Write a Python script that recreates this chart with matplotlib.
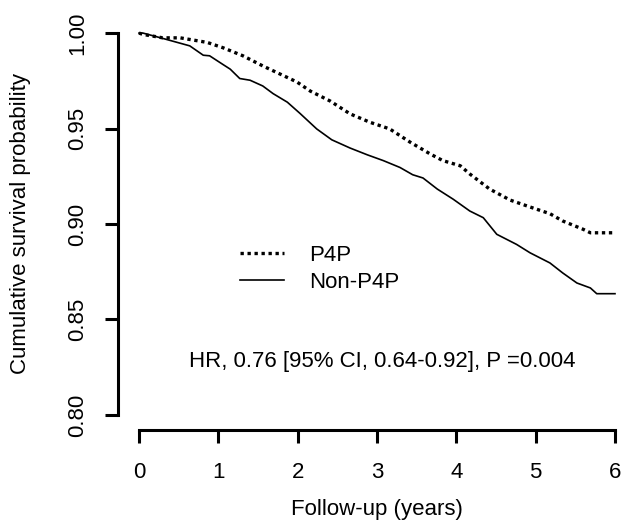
import matplotlib
matplotlib.use("Agg")
import matplotlib.pyplot as plt

plt.rcParams['font.family'] = ['Liberation Sans', 'DejaVu Sans']

# P4P 群 (点線)
p4p_t = [0.0, 0.05, 0.30, 0.52, 0.86, 1.06, 1.31, 1.56, 1.99, 2.16, 2.41, 2.66, 2.91,
         3.16, 3.42, 3.67, 3.83, 4.05, 4.17, 4.42, 4.68, 4.93, 5.18, 5.34, 5.60, 5.69, 5.98]
p4p_s = [1.0, 0.9993, 0.9975, 0.9975, 0.9951, 0.9923, 0.9881, 0.9828, 0.9744, 0.9696,
         0.9644, 0.9577, 0.9533, 0.9498, 0.9428, 0.9367, 0.9332, 0.9305, 0.9262, 0.9183,
         0.9125, 0.9089, 0.9054, 0.9016, 0.8972, 0.8954, 0.8954]

# Non-P4P 群 (実線)
non_t = [0.0, 0.05, 0.30, 0.64, 0.81, 0.89, 1.06, 1.15, 1.27, 1.40, 1.56, 1.69, 1.87,
         2.03, 2.24, 2.43, 2.66, 2.88, 3.08, 3.29, 3.45, 3.58, 3.76, 3.96, 4.17, 4.34,
         4.51, 4.76, 4.93, 5.18, 5.34, 5.52, 5.69, 5.77, 6.00]
non_s = [1.0, 1.0, 0.9972, 0.9933, 0.9884, 0.9881, 0.9835, 0.9811, 0.9762, 0.9753,
         0.9723, 0.9683, 0.9638, 0.9579, 0.9498, 0.9441, 0.9398, 0.9362, 0.9332, 0.9296,
         0.9258, 0.9241, 0.9183, 0.9130, 0.9068, 0.9033, 0.8946, 0.8893, 0.8849, 0.8796,
         0.8744, 0.8691, 0.8665, 0.8635, 0.8635]

x_ticks = [0, 1, 2, 3, 4, 5, 6]
y_ticks = [0.80, 0.85, 0.90, 0.95, 1.00]
y_labels = ["0.80", "0.85", "0.90", "0.95", "1.00"]

FS = 16
W, H = 621, 521
fig = plt.figure(figsize=(W / 100, H / 100), dpi=100)
# 軸の位置をピクセルで指定
left, right, top, bottom = 118, 621, 18, 430
ax = fig.add_axes([left / W, 1 - bottom / H, (right - left) / W, (bottom - top) / H])

ax.plot(p4p_t, p4p_s, color="black", lw=2.4, linestyle=(0, (1, 1.1)), label="P4P")
ax.plot(non_t, non_s, color="black", lw=1.2, label="Non-P4P")

px_per_year = 79.33
x0 = (left - 139) / px_per_year
x1 = (right - 139) / px_per_year
ax.set_xlim(x0, x1)
ax.set_ylim(0.80 - 15 / 1900, 1.00 + 15 / 1900)

for s in ["top", "right"]:
    ax.spines[s].set_visible(False)
ax.spines["left"].set_bounds(0.80, 1.00)
ax.spines["bottom"].set_bounds(0, 6)
for s in ["left", "bottom"]:
    ax.spines[s].set_linewidth(2.2)

ax.set_xticks(x_ticks)
ax.set_yticks(y_ticks)
ax.set_yticklabels(y_labels, rotation=90, va="center")
ax.tick_params(axis="both", length=9.4, width=2.2, labelsize=FS)
ax.tick_params(axis="x", pad=14)
ax.tick_params(axis="y", pad=12)

fig.text(21 / W, 1 - 223 / H, "Cumulative survival probability", rotation=90,
         ha="center", va="center", fontsize=FS)
fig.text(377 / W, 1 - 510 / H, "Follow-up (years)", ha="center", va="center", fontsize=FS)
fig.text(382 / W, 1 - 362 / H, "HR, 0.76 [95% CI, 0.64-0.92], P =0.004",
         ha="center", va="center", fontsize=FS)

# 凡例 (枠なし)
leg = ax.legend(loc="upper left", bbox_to_anchor=(240 / W, 1 - 245 / H),
                bbox_transform=fig.transFigure, frameon=False, fontsize=FS,
                handlelength=2.0, handletextpad=1.1, labelspacing=0.25,
                borderpad=0, borderaxespad=0)

fig.savefig("out.png", dpi=100, facecolor="white")
